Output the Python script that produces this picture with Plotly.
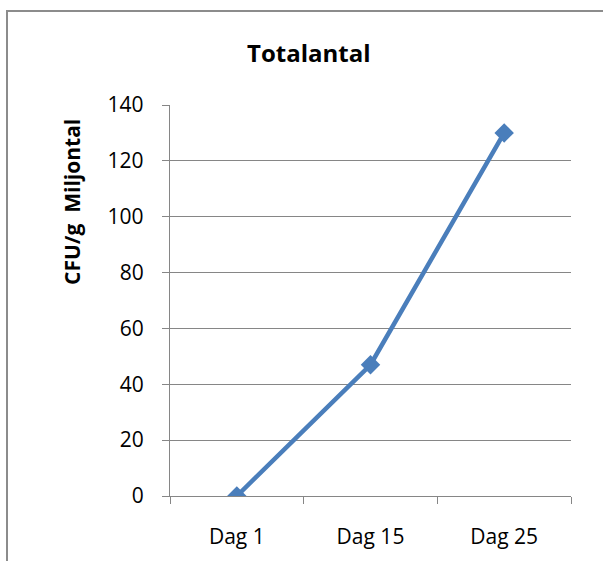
import plotly.graph_objects as go

# Total count per sampling day (CFU/g, in millions)
days = ["Dag 1", "Dag 15", "Dag 25"]
cfu_millions = [0, 47, 130]
y_ticks = [0, 20, 40, 60, 80, 100, 120, 140]

W, H = 603, 561
L, R, T, B = 170, 32, 105, 65
pw, ph = W - L - R, H - T - B


def px_x(x):
    return (x - L) / pw


def px_y(y):
    return (H - B - y) / ph


fig = go.Figure()
fig.add_trace(go.Scatter(
    x=days, y=cfu_millions, mode="lines+markers",
    line=dict(color="#4A7EBB", width=4.5),
    marker=dict(symbol="diamond", size=15, color="#4A7EBB"),
    showlegend=False,
))

font = "Open Sans, Liberation Sans, sans-serif"
grid = "#868686"

fig.update_layout(
    width=W, height=H,
    margin=dict(l=L, r=R, t=T, b=B),
    paper_bgcolor="white", plot_bgcolor="white",
    font=dict(family=font, size=21, color="#000000"),
    xaxis=dict(
        type="category", range=[-0.5, len(days) - 0.5],
        showgrid=False, showline=True, linecolor=grid, linewidth=1.3,
        ticks="outside", tickson="boundaries", ticklen=7, tickcolor=grid, tickwidth=1.3,
        ticklabelstandoff=22, zeroline=False, fixedrange=True,
    ),
    yaxis=dict(
        range=[0, 140], tickvals=y_ticks, showgrid=True, gridcolor=grid, gridwidth=1.3,
        showline=True, linecolor=grid, linewidth=1.3, zeroline=False,
        ticks="outside", ticklen=7, tickcolor=grid, tickwidth=1.3,
        ticklabelstandoff=14, fixedrange=True,
    ),
    shapes=[dict(
        type="rect", xref="paper", yref="paper",
        x0=px_x(7), x1=px_x(640), y0=px_y(600), y1=px_y(11),
        line=dict(color="#8C8C8C", width=2), fillcolor="rgba(0,0,0,0)", layer="below",
    )],
    annotations=[
        dict(text="<b>Totalantal</b>", xref="paper", yref="paper",
             x=px_x(309), y=px_y(52), xanchor="center", yanchor="middle",
             showarrow=False, font=dict(family=font, size=24, color="#000000")),
        dict(text="<b>CFU/g  Miljontal</b>", xref="paper", yref="paper",
             x=px_x(72), y=px_y(202), xanchor="center", yanchor="middle",
             textangle=-90, showarrow=False,
             font=dict(family=font, size=21, color="#000000")),
    ],
)

fig.write_html("out.html")
